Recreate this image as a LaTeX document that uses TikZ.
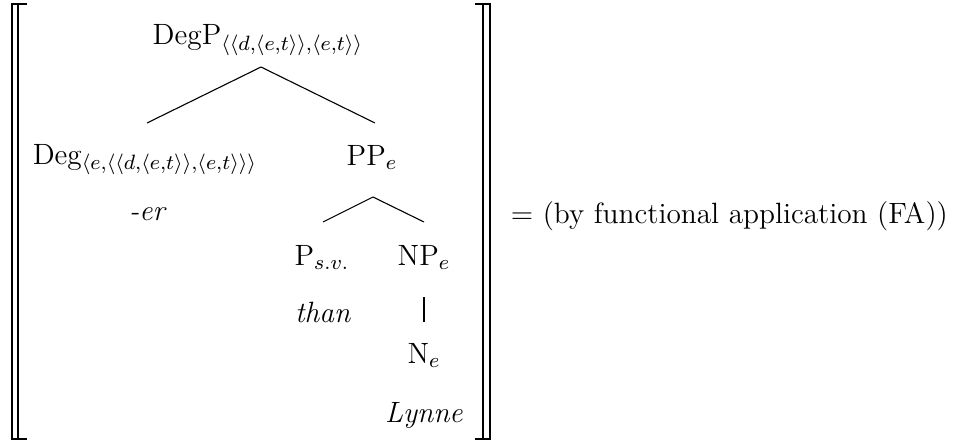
\documentclass[12pt,tikz,border=0pt]{standalone}
\usepackage{graphicx}
\newcommand\tsub[1]{_{\mbox{\fontsize{8}{10}\selectfont\scalebox{1.06}{$\thinmuskip=0mu #1$}}}}
\begin{document}
\begin{tikzpicture}[x=0.409pt,y=-0.409pt,
  lbl/.style={inner sep=0pt,anchor=base},
  br/.style={line width=0.85pt},
  edge/.style={line width=0.45pt}]
\useasboundingbox (0,0) rectangle (955,442);
% brackets
\draw[br] (27,4.3) -- (12.3,4.3) -- (12.3,439) -- (27,439);
\draw[br] (18.3,4.3) -- (18.3,439);
\draw[br] (475,4.3) -- (490,4.3) -- (490,439) -- (475,439);
\draw[br] (483,4.3) -- (483,439);
% nodes
\node[lbl] (degp) at (258,45) {DegP$\tsub{\langle\langle d,\langle e,t\rangle\rangle,\langle e,t\rangle\rangle}$};
\node[lbl] (deg) at (145,164) {Deg$\tsub{\langle e,\langle\langle d,\langle e,t\rangle\rangle,\langle e,t\rangle\rangle\rangle}$};
\node[lbl] (er) at (148,220) {\textit{-er}};
\node[lbl] (pp) at (372,165) {PP$\tsub{e}$};
\node[lbl] (p) at (322,265) {P$\tsub{s.v.}$};
\node[lbl] (np) at (424,265) {NP$\tsub{e}$};
\node[lbl] (than) at (323,322) {\textit{than}};
\node[lbl] (n) at (424,363) {N$\tsub{e}$};
\node[lbl] (lynne) at (424,422) {\textit{Lynne}};
\node[inner sep=0pt,anchor=base west] (fa) at (510.4,223) {$=$ (by functional application (FA))};
% edges
\coordinate (a0) at (261,67);
\coordinate (a1) at (147,123);
\coordinate (a2) at (375,123);
\coordinate (b0) at (373,197);
\coordinate (b1) at (323,222);
\coordinate (b2) at (424,222);
\coordinate (c0) at (424,297);
\coordinate (c1) at (424,322);
\draw[edge] (a1) -- (a0) -- (a2);
\draw[edge] (b1) -- (b0) -- (b2);
\draw[edge] (c0) -- (c1);
\end{tikzpicture}
\end{document}
